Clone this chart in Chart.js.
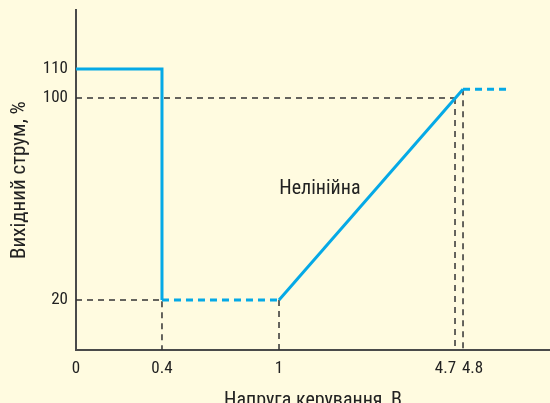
<!DOCTYPE html>
<html>
<head>
<meta charset="utf-8">
<script src="https://cdn.jsdelivr.net/npm/chart.js@4/dist/chart.umd.min.js"></script>
<style>
  html, body { margin: 0; padding: 0; background: #fffbe0; }
  canvas { display: block; }
</style>
</head>
<body>
<canvas id="chart" width="550" height="403"></canvas>
<script>
// tick values on both axes
const xTicks = [0, 0.4, 1, 4.7, 4.8];
const yTicks = [20, 100, 110];

// output current, % vs control voltage, V
const highLevel = [{x: 0, y: 110}, {x: 0.4, y: 110}, {x: 0.4, y: 20}];
const lowLevel  = [{x: 0.4, y: 20}, {x: 1, y: 20}];
const ramp      = [{x: 1, y: 20}, {x: 4.8, y: 103}];
const capLevel  = [{x: 4.8, y: 103}, {x: 5.4, y: 103}];

// helper lines down to the axes
const guide100  = [{x: 0, y: 100}, {x: 4.7, y: 100}];
const guide47   = [{x: 4.7, y: 100}, {x: 4.7, y: 0}];
const guide48   = [{x: 4.8, y: 103}, {x: 4.8, y: 0}];
const guide20   = [{x: 0, y: 20}, {x: 0.4, y: 20}];
const guide04   = [{x: 0.4, y: 50}, {x: 0.4, y: 0}];
const guide1    = [{x: 1, y: 20}, {x: 1, y: 0}];

const noteText = 'Нелінійна';
const notePos = {x: 1.86, y: 64};

const blue = '#05a9e6';
const dark = '#333333';
const fontFamily = "'Roboto Condensed', Roboto, 'Liberation Sans', sans-serif";

// scale with uneven spacing: breaks are [value, fraction of axis]
const toFrac = (breaks, v) => {
  for (let i = 1; i < breaks.length; i++) {
    const [v0, f0] = breaks[i - 1], [v1, f1] = breaks[i];
    if (v <= v1 || i === breaks.length - 1) return f0 + (v - v0) / (v1 - v0) * (f1 - f0);
  }
  return 0;
};
const fromFrac = (breaks, f) => {
  for (let i = 1; i < breaks.length; i++) {
    const [v0, f0] = breaks[i - 1], [v1, f1] = breaks[i];
    if (f <= f1 || i === breaks.length - 1) return v0 + (f - f0) / (f1 - f0) * (v1 - v0);
  }
  return 0;
};

class PiecewiseScale extends Chart.LinearScale {
  getPixelForValue(value) {
    return this.getPixelForDecimal(toFrac(this.options.breaks, value));
  }
  getValueForPixel(pixel) {
    return fromFrac(this.options.breaks, this.getDecimalForPixel(pixel));
  }
}
PiecewiseScale.id = 'piecewise';
PiecewiseScale.defaults = Chart.LinearScale.defaults;
Chart.register(PiecewiseScale);

const line = (data, color, width, dash) => ({
  data: data,
  borderColor: color,
  borderWidth: width,
  borderDash: dash,
  borderJoinStyle: 'miter',
  pointRadius: 0,
  tension: 0,
  fill: false,
  clip: false
});

// 4.7 and 4.8 sit close together, push them apart with spaces
const xLabel = (v) => {
  if (v === 4.7) return '4.7\u2002\u2002 ';
  if (v === 4.8) return '\u2002\u2002 4.8';
  return String(v);
};

// fixed axis boxes, no extra room for edge labels
const fitBox = (size) => (scale) => {
  if (scale.isHorizontal()) scale.height = size;
  else scale.width = size;
  scale.paddingTop = 0;
  scale.paddingBottom = 0;
  scale.paddingLeft = 0;
  scale.paddingRight = 0;
};

const notePlugin = {
  id: 'note',
  afterDatasetsDraw(chart) {
    const {ctx, scales} = chart;
    ctx.save();
    ctx.font = '20px ' + fontFamily;
    ctx.fillStyle = '#222';
    ctx.textAlign = 'center';
    ctx.textBaseline = 'middle';
    ctx.fillText(noteText, scales.x.getPixelForValue(notePos.x), scales.y.getPixelForValue(notePos.y));
    ctx.restore();
  }
};

Chart.defaults.font.family = fontFamily;
Chart.defaults.color = '#222';

new Chart(document.getElementById('chart'), {
  type: 'line',
  data: {
    datasets: [
      line(highLevel, blue, 3, []),
      line(lowLevel, blue, 3, [7, 5]),
      line(ramp, blue, 3, []),
      line(capLevel, blue, 3, [7, 5]),
      line(guide100, dark, 1.5, [6, 5]),
      line(guide47, dark, 1.5, [6, 5]),
      line(guide48, dark, 1.5, [6, 5]),
      line(guide20, dark, 1.5, [6, 5]),
      line(guide04, dark, 1.5, [6, 5]),
      line(guide1, dark, 1.5, [6, 5])
    ]
  },
  options: {
    responsive: false,
    animation: false,
    layout: {autoPadding: false, padding: {top: 10, right: 0, left: 0, bottom: 0}},
    plugins: {legend: {display: false}, tooltip: {enabled: false}},
    scales: {
      x: {
        type: 'piecewise',
        min: 0,
        max: 6,
        breaks: [[0, 0], [0.4, 0.1814], [1, 0.4283], [4.7, 0.7996], [4.8, 0.8165], [6, 1]],
        afterBuildTicks: (scale) => { scale.ticks = xTicks.map(v => ({value: v})); },
        afterFit: fitBox(53),
        grid: {display: false, drawTicks: false},
        border: {display: true, color: '#4a4a4a', width: 2},
        ticks: {
          autoSkip: false,
          maxRotation: 0,
          padding: 9,
          font: {size: 17},
          callback: xLabel
        },
        title: {
          display: true,
          text: 'Напруга керування, В',
          font: {size: 20, lineHeight: 0.25},
          padding: {top: 0, bottom: 0}
        }
      },
      y: {
        type: 'piecewise',
        min: 0,
        max: 130,
        breaks: [[0, 0], [20, 0.147], [100, 0.741], [110, 0.8265], [130, 1]],
        afterBuildTicks: (scale) => { scale.ticks = yTicks.map(v => ({value: v})); },
        afterFit: fitBox(76),
        grid: {display: false, drawTicks: false},
        border: {display: true, color: '#4a4a4a', width: 2},
        ticks: {
          autoSkip: false,
          padding: 8,
          font: {size: 17},
          callback: (v) => String(v)
        },
        title: {
          display: true,
          text: 'Вихідний струм, %',
          font: {size: 21, lineHeight: 1},
          padding: {top: 9, bottom: 0}
        }
      }
    }
  },
  plugins: [notePlugin]
});
</script>
</body>
</html>
